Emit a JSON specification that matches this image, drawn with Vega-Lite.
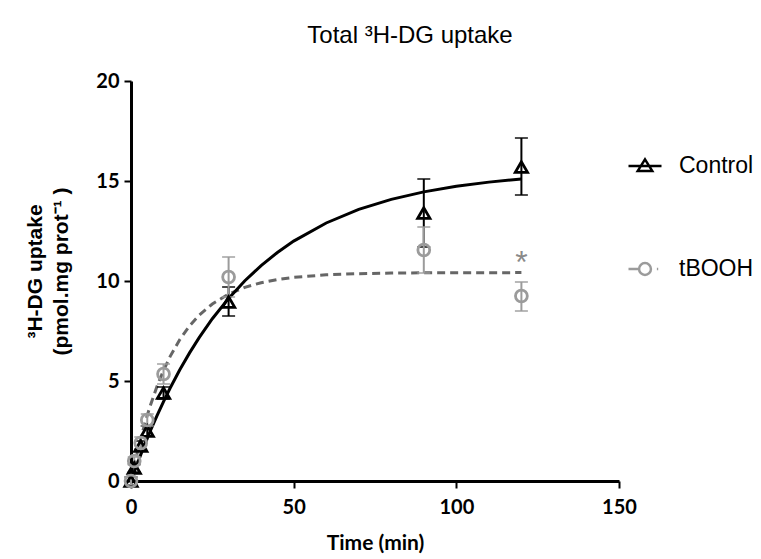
{
  "$schema": "https://vega.github.io/schema/vega-lite/v6.json",
  "width": 488,
  "height": 400,
  "autosize": {"type": "none"},
  "padding": {"left": 131, "top": 81, "right": 142, "bottom": 78},
  "background": "white",
  "title": {"text": "Total ³H-DG uptake", "font": "Liberation Sans", "fontSize": 24, "fontWeight": "normal", "color": "#000000", "anchor": "middle", "dx": 35, "offset": 23},
  "config": {
    "view": {"stroke": null},
    "axis": {"grid": false, "domainColor": "#000000", "domainWidth": 3, "tickColor": "#000000", "tickWidth": 2, "tickSize": 7, "labelColor": "#000000", "titleColor": "#000000", "labelFont": "Lato", "labelFontWeight": "bold", "labelFontSize": 20, "labelFlush": false, "labelOverlap": false},
    "legend": {"title": null, "orient": "none", "legendX": 496, "legendY": 67, "padding": 0, "symbolSize": 1089, "symbolStrokeWidth": 2.5, "rowPadding": 73, "labelFont": "Liberation Sans", "labelFontSize": 23, "labelOffset": 16, "labelFontWeight": "normal"}
  },
  "datasets": {
    "points": [
      {"group": "Control", "t": 0, "y": 0, "lo": -0.2, "hi": 0.2},
      {"group": "Control", "t": 1, "y": 0.65, "lo": 0.45, "hi": 0.85},
      {"group": "Control", "t": 3, "y": 1.75, "lo": 1.5, "hi": 2.0},
      {"group": "Control", "t": 5, "y": 2.5, "lo": 2.25, "hi": 2.75},
      {"group": "Control", "t": 10, "y": 4.4, "lo": 4.1, "hi": 4.7},
      {"group": "Control", "t": 30, "y": 8.95, "lo": 8.25, "hi": 9.7},
      {"group": "Control", "t": 90, "y": 13.4, "lo": 11.7, "hi": 15.1},
      {"group": "Control", "t": 120, "y": 15.7, "lo": 14.3, "hi": 17.15},
      {"group": "tBOOH", "t": 0, "y": 0, "lo": -0.2, "hi": 0.2},
      {"group": "tBOOH", "t": 1, "y": 1.0, "lo": 0.8, "hi": 1.2},
      {"group": "tBOOH", "t": 3, "y": 1.9, "lo": 1.6, "hi": 2.2},
      {"group": "tBOOH", "t": 5, "y": 3.05, "lo": 2.75, "hi": 3.35},
      {"group": "tBOOH", "t": 10, "y": 5.35, "lo": 4.85, "hi": 5.85},
      {"group": "tBOOH", "t": 30, "y": 10.2, "lo": 9.2, "hi": 11.2},
      {"group": "tBOOH", "t": 90, "y": 11.55, "lo": 10.4, "hi": 12.7},
      {"group": "tBOOH", "t": 120, "y": 9.25, "lo": 8.5, "hi": 9.95}
    ],
    "curves": [
      {"group": "Control", "t": 0, "y": 0},
      {"group": "Control", "t": 1, "y": 0.452},
      {"group": "Control", "t": 2, "y": 0.891},
      {"group": "Control", "t": 3, "y": 1.317},
      {"group": "Control", "t": 4, "y": 1.731},
      {"group": "Control", "t": 5, "y": 2.133},
      {"group": "Control", "t": 6, "y": 2.523},
      {"group": "Control", "t": 8, "y": 3.269},
      {"group": "Control", "t": 10, "y": 3.973},
      {"group": "Control", "t": 12, "y": 4.636},
      {"group": "Control", "t": 15, "y": 5.56},
      {"group": "Control", "t": 18, "y": 6.406},
      {"group": "Control", "t": 21, "y": 7.18},
      {"group": "Control", "t": 25, "y": 8.112},
      {"group": "Control", "t": 30, "y": 9.132},
      {"group": "Control", "t": 35, "y": 10.012},
      {"group": "Control", "t": 40, "y": 10.772},
      {"group": "Control", "t": 45, "y": 11.427},
      {"group": "Control", "t": 50, "y": 11.993},
      {"group": "Control", "t": 60, "y": 12.901},
      {"group": "Control", "t": 70, "y": 13.578},
      {"group": "Control", "t": 80, "y": 14.082},
      {"group": "Control", "t": 90, "y": 14.457},
      {"group": "Control", "t": 100, "y": 14.736},
      {"group": "Control", "t": 110, "y": 14.944},
      {"group": "Control", "t": 120, "y": 15.099},
      {"group": "tBOOH", "t": 0, "y": 0},
      {"group": "tBOOH", "t": 1, "y": 0.76},
      {"group": "tBOOH", "t": 2, "y": 1.464},
      {"group": "tBOOH", "t": 3, "y": 2.117},
      {"group": "tBOOH", "t": 4, "y": 2.722},
      {"group": "tBOOH", "t": 5, "y": 3.284},
      {"group": "tBOOH", "t": 6, "y": 3.804},
      {"group": "tBOOH", "t": 8, "y": 4.733},
      {"group": "tBOOH", "t": 10, "y": 5.532},
      {"group": "tBOOH", "t": 12, "y": 6.219},
      {"group": "tBOOH", "t": 15, "y": 7.072},
      {"group": "tBOOH", "t": 18, "y": 7.752},
      {"group": "tBOOH", "t": 21, "y": 8.295},
      {"group": "tBOOH", "t": 25, "y": 8.85},
      {"group": "tBOOH", "t": 30, "y": 9.344},
      {"group": "tBOOH", "t": 35, "y": 9.683},
      {"group": "tBOOH", "t": 40, "y": 9.915},
      {"group": "tBOOH", "t": 45, "y": 10.074},
      {"group": "tBOOH", "t": 50, "y": 10.183},
      {"group": "tBOOH", "t": 60, "y": 10.309},
      {"group": "tBOOH", "t": 70, "y": 10.368},
      {"group": "tBOOH", "t": 80, "y": 10.396},
      {"group": "tBOOH", "t": 90, "y": 10.409},
      {"group": "tBOOH", "t": 100, "y": 10.415},
      {"group": "tBOOH", "t": 110, "y": 10.418},
      {"group": "tBOOH", "t": 120, "y": 10.419}
    ],
    "notes": [
      {"t": 120, "y": 10.9, "label": "*"}
    ]
  },
  "encoding": {
    "x": {"field": "t", "type": "quantitative", "scale": {"domain": [0, 150], "nice": false},
      "axis": {"values": [0, 50, 100, 150], "title": "Time (min)", "titleFont": "Lato", "titleFontSize": 21, "titleFontWeight": "bold", "labelPadding": 9, "titlePadding": 15}},
    "y": {"field": "y", "type": "quantitative", "scale": {"domain": [0, 20], "nice": false},
      "axis": {"values": [0, 5, 10, 15, 20], "title": ["³H-DG uptake", "(pmol.mg prot⁻¹ )"], "titleFont": "Liberation Sans", "titleFontSize": 21, "titleFontWeight": "bold", "titleLineHeight": 26, "titleY": 190, "labelPadding": 5, "titlePadding": 24}}
  },
  "layer": [
    {
      "data": {"name": "curves"},
      "transform": [{"filter": "datum.group === 'tBOOH'"}],
      "mark": {"type": "line", "color": "#666666", "strokeWidth": 3, "strokeDash": [8, 5], "clip": false},
      "encoding": {}
    },
    {
      "data": {"name": "curves"},
      "transform": [{"filter": "datum.group === 'Control'"}],
      "mark": {"type": "line", "color": "#000000", "strokeWidth": 3, "clip": false},
      "encoding": {}
    },
    {
      "data": {"name": "points"},
      "transform": [{"filter": "datum.group === 'Control'"}],
      "mark": {"type": "errorbar", "color": "#000000", "thickness": 2, "ticks": {"size": 13, "thickness": 2}},
      "encoding": {
        "y": {"field": "lo", "type": "quantitative"},
        "y2": {"field": "hi"}
      }
    },
    {
      "data": {"name": "points"},
      "transform": [{"filter": "datum.group === 'tBOOH'"}],
      "mark": {"type": "errorbar", "color": "#9b9b9b", "thickness": 2, "ticks": {"size": 13, "thickness": 2}},
      "encoding": {
        "y": {"field": "lo", "type": "quantitative"},
        "y2": {"field": "hi"}
      }
    },
    {
      "data": {"name": "points"},
      "transform": [{"filter": "datum.group === 'Control'"}],
      "mark": {"type": "point", "shape": "triangle-up", "filled": false, "strokeWidth": 2.8, "size": 150, "opacity": 1, "clip": false},
      "encoding": {
        "color": {"field": "group", "type": "nominal", "scale": {"domain": ["Control", "tBOOH"], "range": ["#000000", "#9b9b9b"]},
          "legend": {
            "symbolType": {"expr": "datum.value === 'Control' ? 'M-1,0L1,0M0,-0.4L0.44,0.3L-0.44,0.3Z' : 'M-1,0L-0.36,0M0.36,0A0.36,0.36 0 1 1 -0.36,0A0.36,0.36 0 1 1 0.36,0M0.72,0L0.8,0'"},
            "encode": {
              "symbols": {
                "fill": {"value": "transparent"},
                "fillOpacity": {"value": 0},
                "strokeOpacity": {"value": 1},
                "strokeWidth": {"value": 2.5}
              },
              "labels": {"fill": {"value": {"expr": "datum.value === 'Control' ? '#000000' : '#9b9b9b'"}}}
            }}}
      }
    },
    {
      "data": {"name": "points"},
      "transform": [{"filter": "datum.group === 'tBOOH'"}],
      "mark": {"type": "point", "shape": "circle", "filled": false, "strokeWidth": 2.8, "size": 140, "opacity": 1, "clip": false},
      "encoding": {
        "color": {"field": "group", "type": "nominal", "scale": {"domain": ["Control", "tBOOH"], "range": ["#000000", "#9b9b9b"]}}
      }
    },
    {
      "data": {"name": "notes"},
      "mark": {"type": "text", "font": "Liberation Sans", "fontSize": 32, "color": "#8a8a8a", "baseline": "middle", "align": "center"},
      "encoding": {"text": {"field": "label"}}
    }
  ]
}
